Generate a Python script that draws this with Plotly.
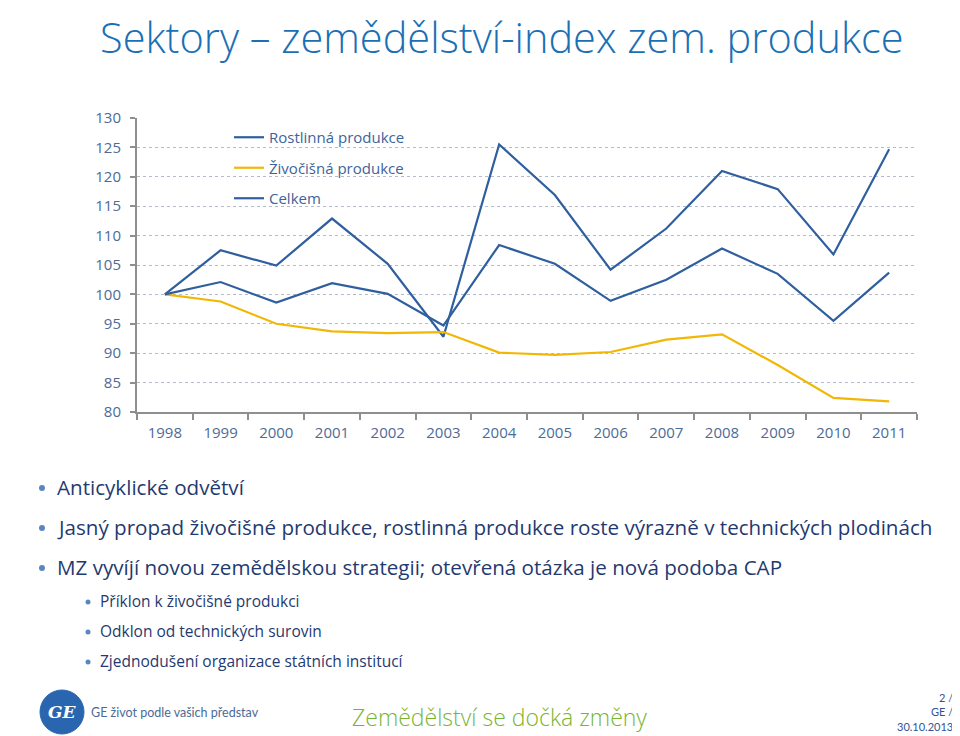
import plotly.graph_objects as go

years = ["1998", "1999", "2000", "2001", "2002", "2003", "2004",
         "2005", "2006", "2007", "2008", "2009", "2010", "2011"]
rostlinna = [100, 107.5, 104.9, 112.9, 105.2, 92.8, 125.5,
             116.9, 104.2, 111.2, 121.0, 117.9, 106.8, 124.7]
zivocisna = [100, 98.8, 95.0, 93.7, 93.4, 93.6, 90.1,
             89.7, 90.2, 92.3, 93.2, 88.0, 82.4, 81.8]
celkem = [100, 102.1, 98.6, 101.9, 100.1, 94.7, 108.4,
          105.2, 98.9, 102.5, 107.8, 103.5, 95.5, 103.7]
series_names = ["Rostlinná produkce", "Živočišná produkce", "Celkem"]

title_text = "Sektory – zemědělství-index zem. produkce"
bullets = ["Anticyklické odvětví",
           "Jasný propad živočišné produkce, rostlinná produkce roste výrazně v technických plodinách",
           "MZ vyvíjí novou zemědělskou strategii; otevřená otázka je nová podoba CAP"]
sub_bullets = ["Příklon k živočišné produkci",
               "Odklon od technických surovin",
               "Zjednodušení organizace státních institucí"]
footer_left = "GE život podle vašich představ"
footer_center = "Zemědělství se dočká změny"
footer_right = "2 /<br>GE /<br>30.10.2013"

W, H = 960, 736
OFF = 8  # default page body margin
BLUE = "#2f5f9e"
YELLOW = "#f2b705"
TEXT = "#1f3a70"
TICK = "#4d6b96"
DOT = "#5a86c0"
FONT = "Open Sans"


def px(x):
    return (x - OFF) / W


def py(y):
    return 1 - (y - OFF) / H


fig = go.Figure()
for name, vals, col, grp in [(series_names[0], rostlinna, BLUE, "a"),
                             (series_names[1], zivocisna, YELLOW, "b"),
                             (series_names[2], celkem, BLUE, "c")]:
    fig.add_trace(go.Scatter(x=years, y=vals, mode="lines", name=name,
                             legendgroup=grp,
                             line=dict(color=col, width=2.2)))

fig.update_layout(
    width=W, height=H,
    margin=dict(l=0, r=0, t=0, b=0, autoexpand=False),
    paper_bgcolor="white", plot_bgcolor="white",
    font=dict(family=FONT, color=TICK, size=15),
    showlegend=True,
    legend=dict(x=px(229), y=py(121), xanchor="left", yanchor="top",
                bgcolor="rgba(0,0,0,0)", font=dict(size=15, color="#3d649a", family=FONT),
                tracegroupgap=8, itemwidth=30),
    xaxis=dict(domain=[px(137), px(917)], type="category", range=[-0.5, 13.5],
               showline=True, linecolor="#8f8f8f", linewidth=2,
               ticks="outside", tickson="boundaries", ticklen=6, tickcolor="#8f8f8f",
               tickwidth=2, showgrid=False, ticklabelstandoff=6,
               tickfont=dict(size=15, color=TICK)),
    yaxis=dict(domain=[py(412), py(118)], range=[80, 130], dtick=5,
               showline=True, linecolor="#8f8f8f", linewidth=2,
               ticks="outside", ticklen=5, tickcolor="#8f8f8f", tickwidth=2,
               showgrid=True, gridcolor="#b4bccb", griddash="dot", gridwidth=1,
               zeroline=False, ticklabelstandoff=6,
               tickfont=dict(size=15, color=TICK)),
)

ann = []
shapes = []
ann.append(dict(x=px(98), y=py(37), xref="paper", yref="paper", xanchor="left",
                yanchor="middle", text=title_text, showarrow=False,
                font=dict(size=41.5, color="#1a6fb5", family="Open Sans", weight=300)))
for i, t in enumerate(bullets):
    yy = [487, 527, 567][i]
    ann.append(dict(x=px(55), y=py(yy), xref="paper", yref="paper", xanchor="left",
                    yanchor="middle", text=t, showarrow=False,
                    font=dict(size=20.6, color=TEXT, family=FONT)))
    shapes.append(dict(type="circle", xref="paper", yref="paper",
                       x0=px(39), x1=px(45), y0=py(yy + 4), y1=py(yy - 2),
                       fillcolor=DOT, line=dict(width=0)))
for i, t in enumerate(sub_bullets):
    yy = [601, 631, 661][i]
    ann.append(dict(x=px(98), y=py(yy), xref="paper", yref="paper", xanchor="left",
                    yanchor="middle", text=t, showarrow=False,
                    font=dict(size=15.5, color=TEXT, family=FONT)))
    shapes.append(dict(type="circle", xref="paper", yref="paper",
                       x0=px(85.5), x1=px(90.5), y0=py(yy + 3.5), y1=py(yy - 1.5),
                       fillcolor=DOT, line=dict(width=0)))
ann.append(dict(x=px(89), y=py(712), xref="paper", yref="paper", xanchor="left",
                yanchor="middle", text=footer_left, showarrow=False,
                font=dict(size=12.5, color="#4b6a98", family="Lato")))
ann.append(dict(x=px(62), y=py(712), xref="paper", yref="paper", xanchor="center",
                yanchor="middle", text="<i><b>GE</b></i>", showarrow=False,
                font=dict(size=17, color="white", family="DejaVu Serif")))
ann.append(dict(x=px(499), y=py(717), xref="paper", yref="paper", xanchor="center",
                yanchor="middle", text=footer_center, showarrow=False,
                font=dict(size=23, color="#7ab530", family="Open Sans", weight=300)))
ann.append(dict(x=px(955), y=py(712), xref="paper", yref="paper", xanchor="right",
                yanchor="middle", text=footer_right, showarrow=False, align="right",
                font=dict(size=11, color="#2e5596", family="Lato")))

shapes.insert(0, dict(type="circle", xref="paper", yref="paper",
                      x0=px(40), x1=px(84), y0=py(734), y1=py(690),
                      fillcolor="#2a66b0", line=dict(color="#2a66b0", width=1)))
fig.update_layout(annotations=ann, shapes=shapes)

fig.write_html("out.html")
